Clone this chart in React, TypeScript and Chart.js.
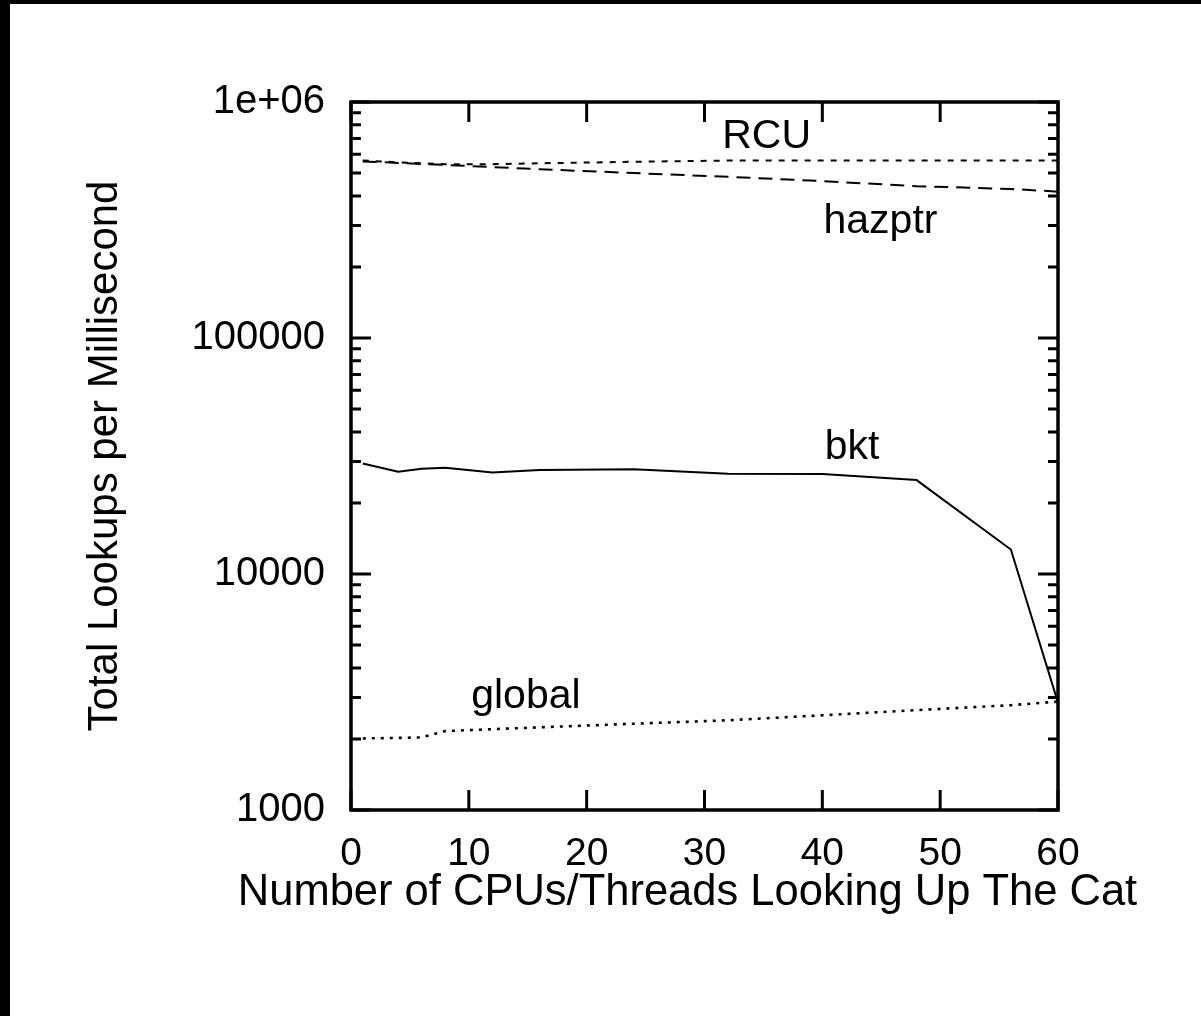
import React, { useEffect, useRef } from "react";
import { Chart, registerables } from "chart.js";

Chart.register(...registerables);

// ---- data ----
const cpus = [1, 4, 6, 8, 12, 16, 24, 32, 40, 48, 56, 60];
const rcuValues = [565000, 555000, 550000, 545000, 545000, 550000, 558000, 565000, 565000, 565000, 565000, 565000];
const hazptrValues = [560000, 552000, 546000, 541000, 530000, 519000, 500000, 482000, 462000, 440000, 428000, 417000];
const bktValues = [29400, 27100, 27900, 28200, 26900, 27600, 27800, 26600, 26500, 25000, 12700, 2850];
const globalValues = [2010, 2020, 2030, 2160, 2200, 2240, 2320, 2400, 2520, 2650, 2780, 2880];

const seriesNames = ["RCU", "hazptr", "bkt", "global"];
const seriesDash = [[6, 7], [14, 8], [], [3, 6]];
const seriesWidth = [2, 2, 2, 2.6];
const labelX = [31.5, 40.1, 40.2, 10.2];
const labelY = [711000, 310000, 34200, 3010];

const xTickValues = [0, 10, 20, 30, 40, 50, 60];
const yTickValues = [1000, 10000, 100000, 1000000];
const yTickLabels = ["1000", "10000", "100000", "1e+06"];

const xTitle = "Number of CPUs/Threads Looking Up The Cat";
const yTitle = "Total Lookups per Millisecond";

const FONT = "'Liberation Sans', Arial, Helvetica, sans-serif";

const framePlugin = {
  id: "gnuplotFrame",
  beforeDraw(chart: any) {
    const { ctx, width, height } = chart;
    ctx.save();
    ctx.fillStyle = "#ffffff";
    ctx.fillRect(0, 0, width, height);
    ctx.fillStyle = "#000000";
    ctx.fillRect(0, 0, width, 4);
    ctx.fillRect(0, 0, 10, height);
    ctx.restore();
  },
  afterDatasetsDraw(chart: any) {
    const { ctx, chartArea, scales } = chart;
    const { left, right, top, bottom } = chartArea;
    const xs = scales.x;
    const ys = scales.y;
    ctx.save();
    ctx.strokeStyle = "#000";
    ctx.lineWidth = 3;
    ctx.lineCap = "butt";
    const major = 20;
    const minor = 10;
    ctx.beginPath();
    yTickValues.forEach((v) => {
      const py = ys.getPixelForValue(v);
      ctx.moveTo(left, py);
      ctx.lineTo(left + major, py);
      ctx.moveTo(right, py);
      ctx.lineTo(right - major, py);
    });
    for (let i = 0; i < yTickValues.length - 1; i++) {
      for (let m = 2; m <= 9; m++) {
        const py = ys.getPixelForValue(yTickValues[i] * m);
        ctx.moveTo(left, py);
        ctx.lineTo(left + minor, py);
        ctx.moveTo(right, py);
        ctx.lineTo(right - minor, py);
      }
    }
    xTickValues.forEach((v) => {
      const px = xs.getPixelForValue(v);
      ctx.moveTo(px, bottom);
      ctx.lineTo(px, bottom - major);
      ctx.moveTo(px, top);
      ctx.lineTo(px, top + major);
    });
    ctx.stroke();
    ctx.lineWidth = 3.5;
    ctx.strokeRect(left, top, right - left, bottom - top);

    ctx.fillStyle = "#000";
    ctx.font = `41px ${FONT}`;
    ctx.textAlign = "left";
    ctx.textBaseline = "middle";
    seriesNames.forEach((name, i) => {
      ctx.fillText(name, xs.getPixelForValue(labelX[i]), ys.getPixelForValue(labelY[i]));
    });

    // x axis title (drawn without Chart.js's maxWidth squeeze)
    ctx.font = `43.5px ${FONT}`;
    ctx.textAlign = "center";
    ctx.fillText(xTitle, (left + right) / 2 - 17, bottom + 83);
    ctx.restore();
  },
};

export default function App() {
  const canvasRef = useRef<HTMLCanvasElement | null>(null);

  useEffect(() => {
    const canvas = canvasRef.current;
    if (!canvas) return;
    const allSeries = [rcuValues, hazptrValues, bktValues, globalValues];
    const chart = new Chart(canvas, {
      type: "line",
      data: {
        datasets: allSeries.map((vals, i) => ({
          label: seriesNames[i],
          data: cpus.map((c, j) => ({ x: c, y: vals[j] })),
          borderColor: "#000",
          borderWidth: seriesWidth[i],
          borderDash: seriesDash[i],
          pointRadius: 0,
          fill: false,
          tension: 0,
        })),
      },
      options: {
        animation: false,
        responsive: false,
        maintainAspectRatio: false,
        devicePixelRatio: 1,
        layout: { padding: { left: 0, top: 102, right: 143, bottom: 0 } },
        plugins: {
          legend: { display: false },
          tooltip: { enabled: false },
        },
        scales: {
          x: {
            type: "linear",
            min: 0,
            max: 60,
            border: { display: false },
            grid: { display: false, drawTicks: false },
            afterBuildTicks: (s: any) => {
              s.ticks = xTickValues.map((v) => ({ value: v }));
            },
            ticks: {
              color: "#000",
              padding: 21,
              maxRotation: 0,
              autoSkip: false,
              font: { family: FONT, size: 39 },
              callback: (v: any) => String(v),
            },
            title: { display: false, text: xTitle },
            afterFit: (s: any) => {
              s.height = 206;
            },
          },
          y: {
            type: "logarithmic",
            min: 1000,
            max: 1000000,
            border: { display: false },
            grid: { display: false, drawTicks: false },
            afterBuildTicks: (s: any) => {
              s.ticks = yTickValues.map((v) => ({ value: v }));
            },
            ticks: {
              color: "#000",
              padding: 26,
              autoSkip: false,
              font: { family: FONT, size: 40 },
              callback: (v: any) => {
                const idx = yTickValues.indexOf(Number(v));
                return idx >= 0 ? yTickLabels[idx] : "";
              },
            },
            title: {
              display: true,
              text: yTitle,
              color: "#000",
              font: { family: FONT, size: 42 },
              padding: { top: 80, bottom: 0 },
            },
            afterFit: (s: any) => {
              s.width = 351;
            },
          },
        },
      },
      plugins: [framePlugin],
    } as any);
    return () => chart.destroy();
  }, []);

  return (
    <div style={{ position: "fixed", left: 0, top: 0, width: 1201, height: 1016 }}>
      <canvas ref={canvasRef} width={1201} height={1016} />
    </div>
  );
}
